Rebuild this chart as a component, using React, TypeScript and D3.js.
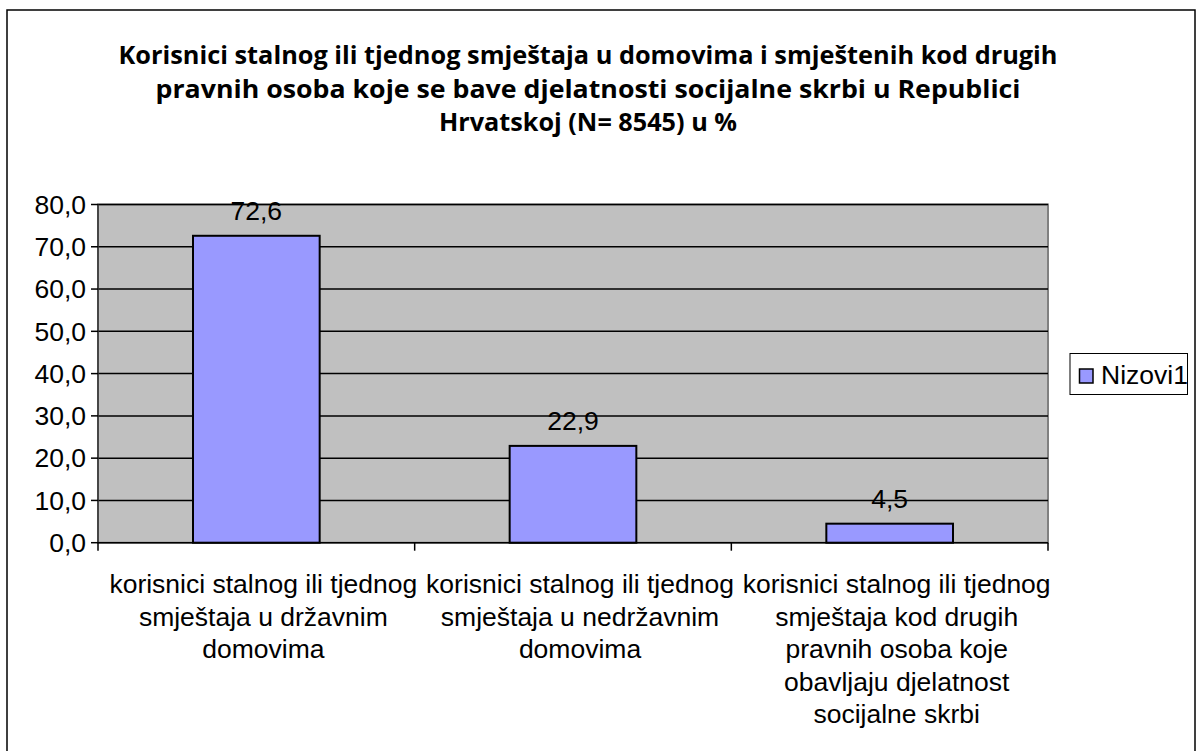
import React from "react";
import * as d3 from "d3";

const titleLines = [
  "Korisnici stalnog ili tjednog smještaja u domovima i smještenih kod drugih",
  "pravnih osoba koje se bave djelatnosti socijalne skrbi u Republici",
  "Hrvatskoj (N= 8545) u %",
];
const titleWidths = [939, 865, 298];

const categories = [
  ["korisnici stalnog ili tjednog", "smještaja u državnim", "domovima"],
  ["korisnici stalnog ili tjednog", "smještaja u nedržavnim", "domovima"],
  [
    "korisnici stalnog ili tjednog",
    "smještaja kod drugih",
    "pravnih osoba koje",
    "obavljaju djelatnost",
    "socijalne skrbi",
  ],
];
const values = [72.6, 22.9, 4.5];
const valueLabels = ["72,6", "22,9", "4,5"];
const yTicks = [0, 10, 20, 30, 40, 50, 60, 70, 80];
const seriesName = "Nizovi1";

const W = 1196;
const H = 751;
const plot = { left: 98, right: 1048, top: 204.5, bottom: 542.7 };
const FONT = "'Liberation Sans', Arial, sans-serif";
const FS = 26.5;

export default function App() {
  const x = d3
    .scaleBand<number>()
    .domain(values.map((_, i) => i))
    .range([plot.left, plot.right])
    .paddingInner(0.6)
    .paddingOuter(0.3);
  const xOuter = d3
    .scaleBand<number>()
    .domain(values.map((_, i) => i))
    .range([plot.left, plot.right]);
  const y = d3.scaleLinear().domain([0, 80]).range([plot.bottom, plot.top]);
  const fmt = (v: number) => v.toFixed(1).replace(".", ",");

  return (
    <svg
      width={W}
      height={H}
      style={{ position: "absolute", left: 0, top: 0, background: "#fff" }}
    >
      <defs>
        <clipPath id="chartClip">
          <rect x={7} y={10} width={1188} height={760} />
        </clipPath>
      </defs>
      <rect x={7} y={10} width={1188} height={760} fill="#fff" stroke="#000" strokeWidth={1.5} />
      {titleLines.map((t, i) => (
        <text
          key={i}
          x={588}
          y={64 + i * 33.5}
          textAnchor="middle"
          fontFamily="'Open Sans', sans-serif"
          fontWeight="bold"
          fontSize={25}
          textLength={titleWidths[i]}
          lengthAdjust="spacingAndGlyphs"
          fill="#000"
        >
          {t}
        </text>
      ))}
      <rect
        x={plot.left}
        y={plot.top}
        width={plot.right - plot.left}
        height={plot.bottom - plot.top}
        fill="#C0C0C0"
        stroke="#808080"
        strokeWidth={2}
      />
      {yTicks.slice(1).map((t) => (
        <line key={t} x1={plot.left} x2={plot.right} y1={y(t)} y2={y(t)} stroke="#000" strokeWidth={1.5} />
      ))}
      {values.map((v, i) => (
        <rect
          key={i}
          x={x(i)}
          y={y(v)}
          width={x.bandwidth()}
          height={y(0) - y(v)}
          fill="#9999FF"
          stroke="#000"
          strokeWidth={2}
        />
      ))}
      <line x1={plot.left} x2={plot.left} y1={plot.top} y2={plot.bottom} stroke="#333" strokeWidth={1.5} />
      <line x1={plot.left} x2={plot.right} y1={plot.bottom} y2={plot.bottom} stroke="#000" strokeWidth={1.5} />
      {yTicks.map((t) => (
        <g key={t}>
          <line x1={plot.left - 7} x2={plot.left} y1={y(t)} y2={y(t)} stroke="#000" strokeWidth={1.5} />
          <text x={86} y={y(t)} dy="0.35em" textAnchor="end" fontFamily={FONT} fontSize={FS} fill="#000">
            {fmt(t)}
          </text>
        </g>
      ))}
      {[0, 1, 2].map((i) => (
        <line
          key={i}
          x1={xOuter(i)}
          x2={xOuter(i)}
          y1={plot.bottom}
          y2={plot.bottom + 8}
          stroke="#000"
          strokeWidth={1.5}
        />
      ))}
      <line x1={plot.right} x2={plot.right} y1={plot.bottom} y2={plot.bottom + 8} stroke="#000" strokeWidth={1.5} />
      {values.map((v, i) => (
        <text
          key={i}
          x={(x(i) as number) + x.bandwidth() / 2}
          y={y(v) - 16}
          textAnchor="middle"
          fontFamily={FONT}
          fontSize={FS}
          fill="#000"
        >
          {valueLabels[i]}
        </text>
      ))}
      {categories.map((lines, i) =>
        lines.map((l, j) => (
          <text
            key={i + "-" + j}
            x={(xOuter(i) as number) + xOuter.bandwidth() / 2 + 7}
            y={593 + j * 32.5}
            textAnchor="middle"
            fontFamily={FONT}
            fontSize={FS}
            fill="#000"
          >
            {l}
          </text>
        ))
      )}
      <g clipPath="url(#chartClip)">
        <rect x={1070} y={353.5} width={117.5} height={41} fill="#fff" stroke="#000" strokeWidth={1} />
        <rect x={1079.5} y={369} width={13.5} height={14} fill="#9999FF" stroke="#000" strokeWidth={1.5} />
        <text x={1101} y={384} fontFamily={FONT} fontSize={FS} fill="#000">
          {seriesName}
        </text>
      </g>
    </svg>
  );
}
